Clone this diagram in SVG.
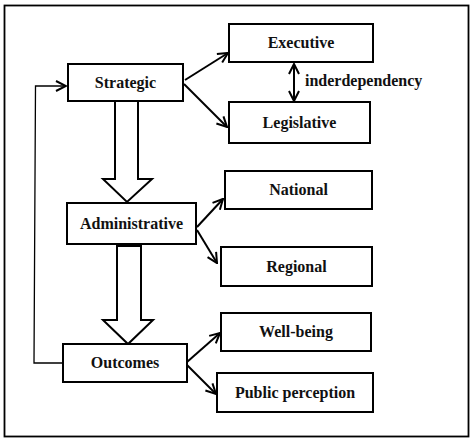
<svg xmlns="http://www.w3.org/2000/svg" width="474" height="444" viewBox="0 0 474 444">
<style>
.box{fill:#fff;stroke:#000;stroke-width:2}
.lbl{font-family:"Liberation Serif","Times New Roman",serif;font-weight:bold;font-size:16px;fill:#111;text-anchor:middle}
.con{fill:none;stroke:#000;stroke-width:2}
.fb{fill:none;stroke:#000;stroke-width:1.3}
.big{fill:#fff;stroke:#000;stroke-width:2;stroke-linejoin:miter}
</style>
<defs>
<marker id="ah" viewBox="0 0 12 12" refX="11" refY="6" markerWidth="12" markerHeight="12" markerUnits="userSpaceOnUse" orient="auto-start-reverse">
<path d="M1,1 L11,6 L1,11" fill="none" stroke="#000" stroke-width="2"/>
</marker>
</defs>
<rect x="4.5" y="5.5" width="464" height="431" fill="#fff" stroke="#000" stroke-width="1.8"/>
<g id="connectors">
<line class="con" x1="185" y1="80" x2="228" y2="53" marker-end="url(#ah)"/>
<line class="con" x1="184" y1="84" x2="227" y2="127" marker-end="url(#ah)"/>
<line class="con" x1="294" y1="64" x2="294" y2="101" marker-start="url(#ah)" marker-end="url(#ah)"/>
<line class="con" x1="197" y1="227" x2="223" y2="199" marker-end="url(#ah)"/>
<line class="con" x1="197" y1="230" x2="217" y2="263" marker-end="url(#ah)"/>
<line class="con" x1="187" y1="362" x2="220" y2="333" marker-end="url(#ah)"/>
<line class="con" x1="187" y1="365" x2="216" y2="394" marker-end="url(#ah)"/>
<path class="big" d="M115,101 L138,101 L138,179 L152,179 L127,202 L103,179 L115,179 Z"/>
<path class="big" d="M117,246 L141,246 L141,320 L153,320 L128,344 L103,320 L117,320 Z"/>
<path class="fb" d="M63,363 L34,363 L35.5,86 L66,86" marker-end="url(#ah)"/>
<text class="lbl" x="305" y="86" style="text-anchor:start">inderdependency</text>
</g>
<g id="strategic"><rect class="box" x="68" y="64" width="115" height="37"/><text class="lbl" x="125.5" y="88">Strategic</text></g>
<g id="executive"><rect class="box" x="229" y="24" width="144" height="38"/><text class="lbl" x="301" y="48">Executive</text></g>
<g id="legislative"><rect class="box" x="229" y="102" width="141" height="41"/><text class="lbl" x="299.5" y="128">Legislative</text></g>
<g id="administrative"><rect class="box" x="67" y="203" width="129" height="41"/><text class="lbl" x="131.5" y="229">Administrative</text></g>
<g id="national"><rect class="box" x="225" y="171" width="147" height="38"/><text class="lbl" x="298.5" y="195">National</text></g>
<g id="regional"><rect class="box" x="221" y="247" width="151" height="39"/><text class="lbl" x="296.5" y="272">Regional</text></g>
<g id="outcomes"><rect class="box" x="63" y="344" width="124" height="38"/><text class="lbl" x="125" y="368">Outcomes</text></g>
<g id="wellbeing"><rect class="box" x="221" y="313" width="150" height="38"/><text class="lbl" x="296" y="337">Well-being</text></g>
<g id="public"><rect class="box" x="217" y="373" width="156" height="39"/><text class="lbl" x="295" y="398">Public perception</text></g>
</svg>
